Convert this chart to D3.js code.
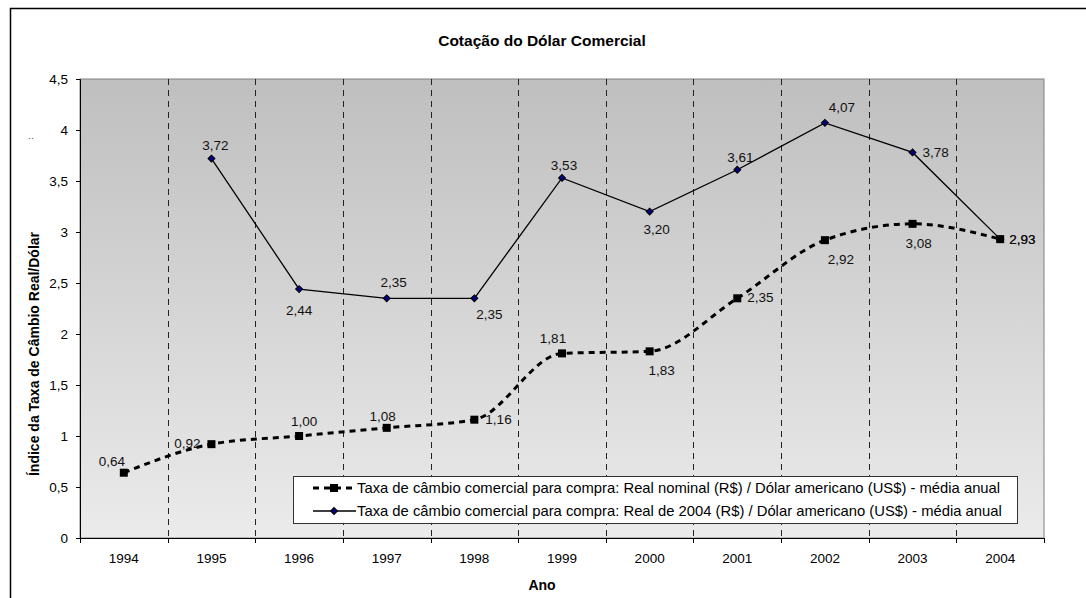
<!DOCTYPE html>
<html>
<head>
<meta charset="utf-8">
<script src="https://cdn.jsdelivr.net/npm/d3@7"></script>
<style>
  body { margin: 0; background: #fff; }
  text { font-family: Arial, "Liberation Sans", sans-serif; }
</style>
</head>
<body>
<script>
// data
var years = ["1994", "1995", "1996", "1997", "1998", "1999", "2000", "2001", "2002", "2003", "2004"];
var nominal = [0.64, 0.92, 1.0, 1.08, 1.16, 1.81, 1.83, 2.35, 2.92, 3.08, 2.93];
var real = [null, 3.72, 2.44, 2.35, 2.35, 3.53, 3.2, 3.61, 4.07, 3.78, 2.93];
var yTicks = [0, 0.5, 1, 1.5, 2, 2.5, 3, 3.5, 4, 4.5];
var seriesNames = [
  "Taxa de câmbio comercial para compra: Real nominal (R$) / Dólar americano (US$) - média anual",
  "Taxa de câmbio comercial para compra: Real de 2004 (R$) / Dólar americano (US$) - média anual"
];
var title = "Cotação do Dólar Comercial";
var yTitle = "Índice da Taxa de Câmbio Real/Dólar";
var xTitle = "Ano";

// label placement (dx, dy, anchor) like excel put them
var nomLabelPos = [[-12, -6.5, "middle"], [-11, 4, "end"], [5, -10.5, "middle"], [-4, -6.5, "middle"],
  [11, 4, "start"], [-9, -10, "middle"], [12, 24, "middle"], [10, 4, "start"], [16, 23.5, "middle"],
  [6, 24.5, "middle"], [9, 4.5, "start"]];
var realLabelPos = [null, [4, -8.5, "middle"], [0, 26, "middle"], [7, -11, "middle"], [15, 20.5, "middle"],
  [2, -8, "middle"], [7, 22, "middle"], [3, -7.5, "middle"], [17, -11, "middle"], [10, 4.5, "start"],
  [9, 4.5, "start"]];

var width = 1086;
var height = 598;
var pLeft = 80, pRight = 1044, pTop = 79, pBottom = 538;
var fs = 13.5;

var svg = d3
  .select("body")
  .append("svg")
  .attr("width", width)
  .attr("height", height);

var fmt = function(v) {
  return d3.format(".2f")(v).replace(".", ",");
};

// outer frame
svg
  .append("rect")
  .attr("x", 10.5)
  .attr("y", 8.5)
  .attr("width", 1200)
  .attr("height", 1000)
  .attr("fill", "#fff")
  .attr("stroke", "#000")
  .attr("stroke-width", 1.5);

var grad = svg
  .append("defs")
  .append("linearGradient")
  .attr("id", "bg")
  .attr("x1", 0)
  .attr("y1", 0)
  .attr("x2", 0)
  .attr("y2", 1);
grad.append("stop").attr("offset", "0%").attr("stop-color", "#bfbfbf");
grad.append("stop").attr("offset", "100%").attr("stop-color", "#ebebeb");

var xScale = d3
  .scaleBand()
  .domain(years)
  .range([pLeft, pRight]);
var yScale = d3
  .scaleLinear()
  .domain([0, 4.5])
  .range([pBottom, pTop]);

// plot area
svg
  .append("rect")
  .attr("x", pLeft)
  .attr("y", pTop)
  .attr("width", pRight - pLeft)
  .attr("height", pBottom - pTop)
  .attr("fill", "url(#bg)")
  .attr("stroke", "#808080")
  .attr("stroke-width", 1);

// dashed vertical lines between the years
svg
  .append("g")
  .selectAll("line")
  .data(years.slice(1))
  .enter()
  .append("line")
  .attr("x1", function(d) { return Math.round(xScale(d)) + 0.5; })
  .attr("x2", function(d) { return Math.round(xScale(d)) + 0.5; })
  .attr("y1", pTop)
  .attr("y2", pBottom)
  .attr("stroke", "#222")
  .attr("stroke-dasharray", "6,5");

// x axis
var xAxis = svg
  .append("g")
  .attr("transform", "translate(0," + pBottom + ")")
  .call(d3.axisBottom(xScale).tickSize(0).tickPadding(15));
xAxis.select(".domain").attr("stroke", "#000");
xAxis.selectAll("text").attr("font-size", fs).attr("fill", "#000").attr("font-family", "Arial, 'Liberation Sans', sans-serif");
xAxis
  .selectAll(".edge")
  .data(years.concat(["end"]))
  .enter()
  .append("line")
  .attr("class", "edge")
  .attr("x1", function(d) { return (d == "end" ? pRight : Math.round(xScale(d))) + 0.5; })
  .attr("x2", function(d) { return (d == "end" ? pRight : Math.round(xScale(d))) + 0.5; })
  .attr("y1", 0)
  .attr("y2", 5)
  .attr("stroke", "#000");

// y axis
var yAxis = svg
  .append("g")
  .attr("transform", "translate(" + pLeft + ",0)")
  .call(
    d3
      .axisLeft(yScale)
      .tickValues(yTicks)
      .tickSizeOuter(0)
      .tickSize(4)
      .tickPadding(8)
      .tickFormat(function(d) { return String(d).replace(".", ","); })
  );
yAxis.select(".domain").attr("stroke", "#000");
yAxis.selectAll("text").attr("font-size", fs).attr("fill", "#000").attr("font-family", "Arial, 'Liberation Sans', sans-serif");

// nominal series, smoothed dashed
var cx = function(i) { return xScale(years[i]) + xScale.bandwidth() / 2; };
var nomLine = d3
  .line()
  .x(function(d, i) { return cx(i); })
  .y(function(d) { return yScale(d); })
  .curve(d3.curveMonotoneX);
svg
  .append("path")
  .attr("d", nomLine(nominal))
  .attr("fill", "none")
  .attr("stroke", "#000")
  .attr("stroke-width", 3)
  .attr("stroke-dasharray", "6,5");

// real series
var realPts = [];
real.forEach(function(v, i) { if (v != null) realPts.push({ i: i, v: v, x: cx(i), y: yScale(v) }); });
svg
  .append("path")
  .attr("d", d3.line().x(function(d) { return d.x; }).y(function(d) { return d.y; })(realPts))
  .attr("fill", "none")
  .attr("stroke", "#000")
  .attr("stroke-width", 1.3);

var diamond = d3.symbol().type(d3.symbolSquare).size(24);
svg
  .append("g")
  .selectAll("path")
  .data(realPts)
  .enter()
  .append("path")
  .attr("d", diamond)
  .attr("transform", function(d) { return "translate(" + d.x + "," + d.y + ") rotate(45)"; })
  .attr("fill", "#000080")
  .attr("stroke", "#000")
  .attr("stroke-width", 1);

svg
  .append("g")
  .selectAll("rect")
  .data(nominal)
  .enter()
  .append("rect")
  .attr("x", function(d, i) { return cx(i) - 4; })
  .attr("y", function(d) { return yScale(d) - 4; })
  .attr("width", 8)
  .attr("height", 8)
  .attr("fill", "#000");

// data labels
svg
  .append("g")
  .selectAll("text")
  .data(nominal)
  .enter()
  .append("text")
  .attr("x", function(d, i) { return cx(i) + nomLabelPos[i][0]; })
  .attr("y", function(d, i) { return yScale(d) + nomLabelPos[i][1]; })
  .attr("text-anchor", function(d, i) { return nomLabelPos[i][2]; })
  .attr("font-size", fs)
  .attr("fill", "#111")
  .text(fmt);
svg
  .append("g")
  .selectAll("text")
  .data(realPts)
  .enter()
  .append("text")
  .attr("x", function(d) { return d.x + realLabelPos[d.i][0]; })
  .attr("y", function(d) { return d.y + realLabelPos[d.i][1]; })
  .attr("text-anchor", function(d) { return realLabelPos[d.i][2]; })
  .attr("font-size", fs)
  .attr("fill", "#111")
  .text(function(d) { return fmt(d.v); });

// legend
var legend = svg.append("g").attr("transform", "translate(293,476)");
legend
  .append("rect")
  .attr("x", 0.5)
  .attr("y", 0.5)
  .attr("width", 724)
  .attr("height", 47)
  .attr("fill", "#fff")
  .attr("stroke", "#333");
legend
  .append("line")
  .attr("x1", 20)
  .attr("x2", 63)
  .attr("y1", 12)
  .attr("y2", 12)
  .attr("stroke", "#000")
  .attr("stroke-width", 3)
  .attr("stroke-dasharray", "6,5");
legend
  .append("rect")
  .attr("x", 37)
  .attr("y", 8)
  .attr("width", 8)
  .attr("height", 8)
  .attr("fill", "#000");
legend
  .append("line")
  .attr("x1", 20)
  .attr("x2", 63)
  .attr("y1", 35)
  .attr("y2", 35)
  .attr("stroke", "#000")
  .attr("stroke-width", 1.3);
legend
  .append("path")
  .attr("d", diamond)
  .attr("transform", "translate(41,35) rotate(45)")
  .attr("fill", "#000080")
  .attr("stroke", "#000");
legend
  .selectAll(".lt")
  .data(seriesNames)
  .enter()
  .append("text")
  .attr("class", "lt")
  .attr("x", 64)
  .attr("y", function(d, i) { return 17 + i * 23; })
  .attr("font-size", 14.8)
  .attr("fill", "#000")
  .text(function(d) { return d; });

// titles
svg
  .append("text")
  .attr("x", 542)
  .attr("y", 46)
  .attr("text-anchor", "middle")
  .attr("font-size", 15.5)
  .attr("font-weight", "bold")
  .text(title);
svg
  .append("text")
  .attr("x", 542)
  .attr("y", 590)
  .attr("text-anchor", "middle")
  .attr("font-size", 14)
  .attr("font-weight", "bold")
  .text(xTitle);
svg
  .append("text")
  .attr("transform", "translate(39,354) rotate(-90)")
  .attr("text-anchor", "middle")
  .attr("font-size", 14)
  .attr("font-weight", "bold")
  .text(yTitle);
svg
  .append("text")
  .attr("x", 31)
  .attr("y", 141)
  .attr("text-anchor", "middle")
  .attr("font-size", 9)
  .attr("fill", "#333")
  .text("··");
</script>
</body>
</html>
